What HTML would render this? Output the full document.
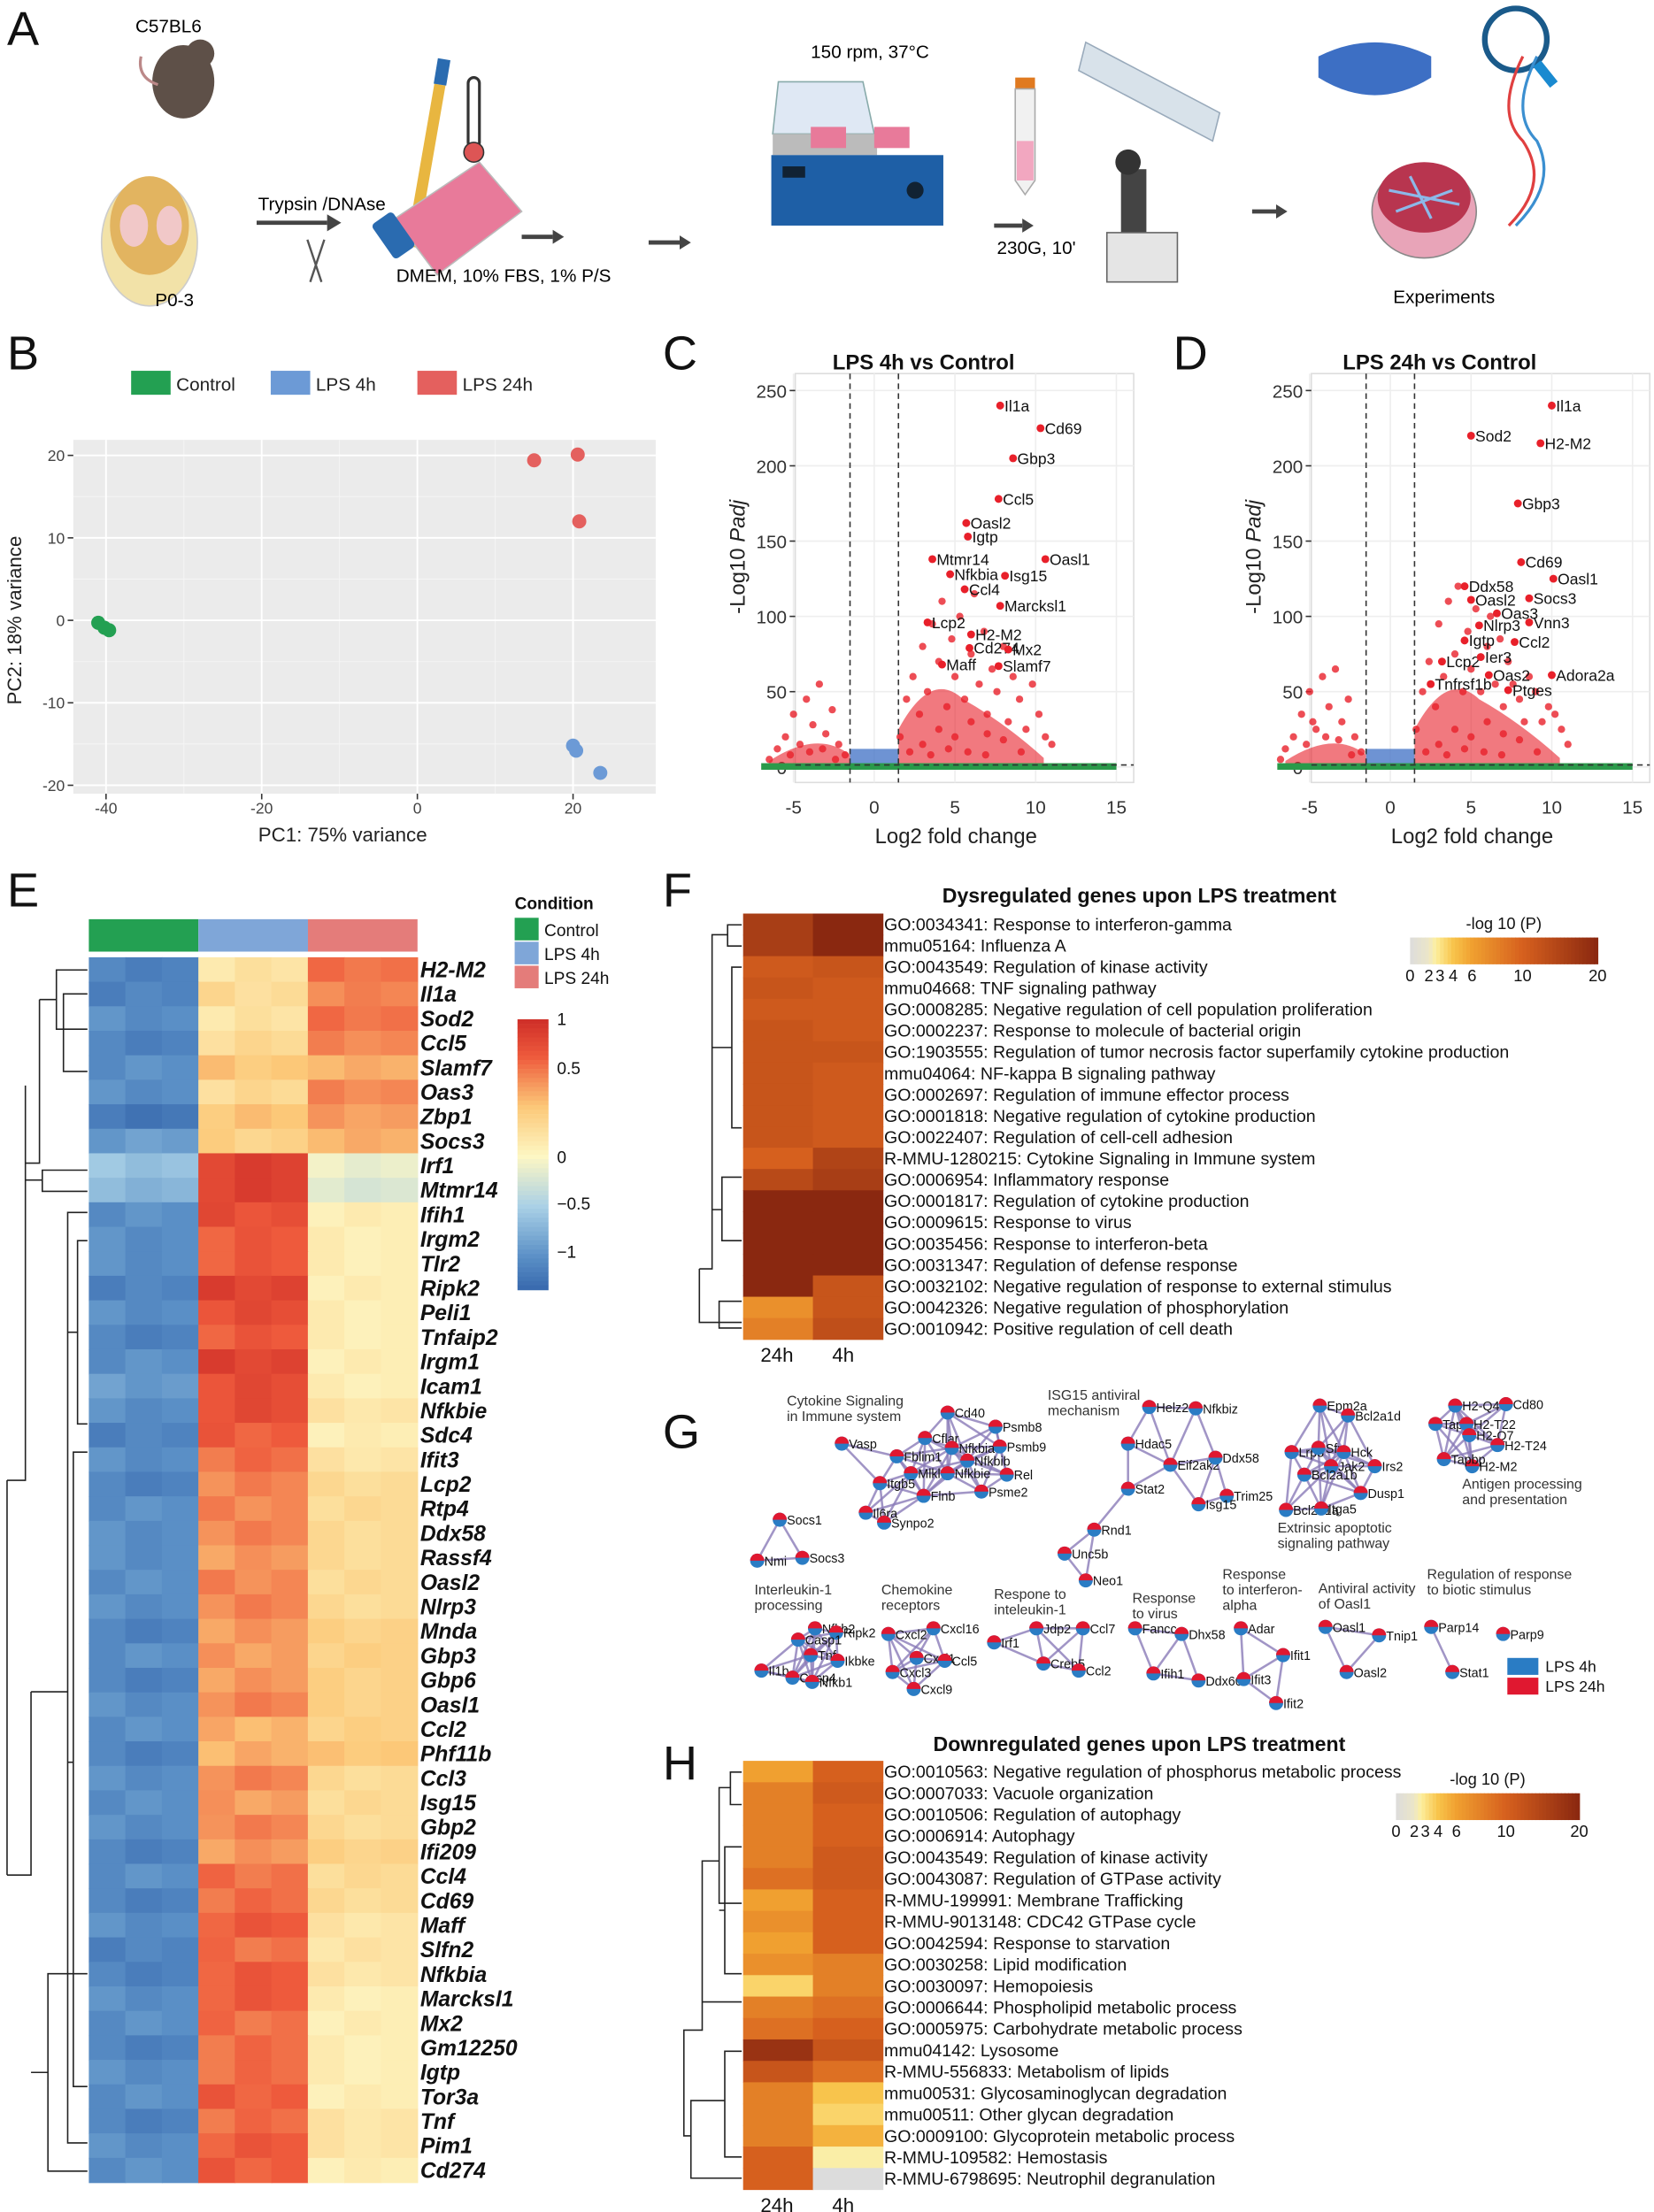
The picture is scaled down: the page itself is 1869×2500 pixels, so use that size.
<!DOCTYPE html>
<html><head><meta charset="utf-8"><style>
html,body{margin:0;padding:0;background:#fff}
svg{display:block;font-family:"Liberation Sans",Arial,sans-serif}
</style></head><body>
<svg id="fig" width="1869" height="2500" viewBox="0 0 1173 1569" xmlns="http://www.w3.org/2000/svg">
<rect width="1173" height="1569" fill="#fff"/>
<g font-size="34" fill="#111">
<text x="5" y="32">A</text><text x="5" y="262">B</text><text x="470" y="262">C</text><text x="832" y="262">D</text>
<text x="5" y="643">E</text><text x="470" y="643">F</text><text x="470" y="1027">G</text><text x="470" y="1262">H</text>
</g>
<g>
<text x="96" y="23" font-size="13">C57BL6</text>
<ellipse cx="130" cy="58" rx="22" ry="26" fill="#5e5048"/>
<circle cx="142" cy="38" r="10" fill="#5e5048"/><path d="M112 60 q-15 -5 -12 -20" stroke="#b88" stroke-width="2" fill="none"/>
<ellipse cx="106" cy="172" rx="34" ry="45" fill="#f2e2a8" stroke="#ccc"/>
<ellipse cx="106" cy="160" rx="28" ry="35" fill="#e2b460"/>
<ellipse cx="95" cy="160" rx="10" ry="15" fill="#f1c8c8"/><ellipse cx="120" cy="160" rx="9" ry="14" fill="#f1c8c8"/>
<text x="183" y="149" font-size="13">Trypsin /DNAse</text>
<path d="M182 158 H232" stroke="#444" stroke-width="3"/><path d="M232 152 l10 6 l-10 6z" fill="#444"/>
<text x="110" y="217" font-size="13">P0-3</text>
<path d="M218 170 l10 30 M230 170 l-10 30" stroke="#555" stroke-width="1.5"/>
<path d="M312 60 l-20 115" stroke="#e8b640" stroke-width="8"/><path d="M315 42 l-3 18" stroke="#2a6bb0" stroke-width="9"/>
<rect x="332" y="55" width="8" height="50" rx="4" fill="none" stroke="#333" stroke-width="2"/><circle cx="336" cy="108" r="7" fill="#d55" stroke="#333"/>
<path d="M280 155 l60 -40 l30 35 l-60 45z" fill="#e87a9a" stroke="#bbb"/>
<rect x="270" y="152" width="18" height="30" rx="3" fill="#2a6bb0" transform="rotate(-35 279 167)"/>
<text x="281" y="200" font-size="13">DMEM, 10% FBS, 1% P/S</text>
<path d="M370 168 H392" stroke="#444" stroke-width="3"/><path d="M392 163 l8 5 l-8 5z" fill="#444"/>
<path d="M460 172 H482" stroke="#444" stroke-width="3"/><path d="M482 167 l8 5 l-8 5z" fill="#444"/>
<text x="575" y="41" font-size="13">150 rpm, 37°C</text>
<path d="M552 58 H612 L620 95 H548z" fill="#dfe8f4" stroke="#8aa"/>
<rect x="548" y="95" width="74" height="15" fill="#bbb"/>
<rect x="547" y="110" width="122" height="50" fill="#1e5fa6"/>
<rect x="555" y="118" width="16" height="8" fill="#123"/><circle cx="649" cy="135" r="6" fill="#123"/>
<rect x="575" y="90" width="25" height="15" fill="#e87a9a"/><rect x="620" y="90" width="25" height="15" fill="#e87a9a"/>
<rect x="720" y="55" width="14" height="8" fill="#e07a20"/><path d="M720 63 h14 v65 l-7 10 l-7 -10z" fill="#f1f1f1" stroke="#aaa"/><rect x="721" y="100" width="12" height="28" fill="#f2a7c0"/>
<text x="707" y="180" font-size="13">230G, 10'</text>
<path d="M705 160 H725" stroke="#444" stroke-width="3"/><path d="M725 155 l8 5 l-8 5z" fill="#444"/>
<path d="M770 30 l95 50 l-5 20 l-95 -50z" fill="#d8e2ea" stroke="#9ab"/>
<rect x="795" y="120" width="18" height="45" fill="#444"/><rect x="785" y="165" width="50" height="35" fill="#e5e5e5" stroke="#666"/><circle cx="800" cy="115" r="9" fill="#333"/>
<path d="M888 150 H905" stroke="#444" stroke-width="3"/><path d="M905 145 l8 5 l-8 5z" fill="#444"/>
<ellipse cx="1010" cy="150" rx="37" ry="33" fill="#e8a4b8" stroke="#888"/><ellipse cx="1010" cy="140" rx="33" ry="25" fill="#b8354f"/>
<path d="M985 135 l50 10 M990 150 l40 -15 M1000 125 l15 30" stroke="#8cb8e8" stroke-width="2"/>
<path d="M935 40 q40 -20 80 0 v15 q-40 25 -80 0z" fill="#3d6fc4"/>
<circle cx="1075" cy="28" r="22" fill="none" stroke="#1a5a8a" stroke-width="4"/><path d="M1090 45 l12 15" stroke="#1a8ad0" stroke-width="7"/>
<path d="M1080 40 q-20 40 0 60 q20 30 -10 60" stroke="#e04040" stroke-width="2" fill="none"/><path d="M1090 40 q-20 40 0 60 q15 30 -15 60" stroke="#3b8fd0" stroke-width="2" fill="none"/>
<text x="988" y="215" font-size="13">Experiments</text>
</g>
<g id="pcaG"></g>
<g id="volC"></g>
<g id="volD"></g>
<g id="heatE"></g>
<g id="heatF"></g>
<g id="netG"></g>
<g id="heatH"></g>
</svg>
<script>
const NS="http://www.w3.org/2000/svg";
function mk(p,t,a,txt){const e=document.createElementNS(NS,t);for(const k in a)e.setAttribute(k,a[k]);if(txt!==undefined)e.textContent=txt;p.appendChild(e);return e;}
function lerpC(stops,v){if(v<=stops[0][0])return '#'+stops[0][1];for(let i=1;i<stops.length;i++){if(v<=stops[i][0]){const a=stops[i-1],b=stops[i],t=(v-a[0])/(b[0]-a[0]);const ca=a[1].match(/\w\w/g).map(h=>parseInt(h,16)),cb=b[1].match(/\w\w/g).map(h=>parseInt(h,16));return"rgb("+ca.map((c,j)=>Math.round(c+(cb[j]-c)*t)).join(",")+")";}}return '#'+stops[stops.length-1][1];}

/* ---------- PCA ---------- */
const pcaControlX=[-41,-40.2,-39.6], pcaControlY=[-0.3,-0.9,-1.2];
const pca4hX=[20,20.4,23.5], pca4hY=[-15.2,-15.8,-18.5];
const pca24hX=[15,20.6,20.8], pca24hY=[19.4,20.1,12];
const pcaTicksX=[-40,-20,0,20], pcaTicksY=[20,10,0,-10,-20];
(function(){
 const g=document.getElementById('pcaG');
 const X=v=>296+v*5.52, Y=v=>440-v*5.85;
 mk(g,'rect',{x:52,y:312,width:413,height:251,fill:'#ebebeb'});
 [-30,-10,10].forEach(v=>mk(g,'line',{x1:X(v),x2:X(v),y1:312,y2:563,stroke:'#f5f5f5',"stroke-width":0.6}));
 [15,5,-5,-15].forEach(v=>mk(g,'line',{x1:52,x2:465,y1:Y(v),y2:Y(v),stroke:'#f5f5f5',"stroke-width":0.6}));
 pcaTicksX.forEach(v=>{mk(g,'line',{x1:X(v),x2:X(v),y1:312,y2:563,stroke:'#fff',"stroke-width":1.2});mk(g,'line',{x1:X(v),x2:X(v),y1:563,y2:567,stroke:'#333'});const t=mk(g,'text',{x:X(v),y:577,"font-size":11,fill:'#444',"text-anchor":'middle'},v);});
 pcaTicksY.forEach(v=>{mk(g,'line',{x1:52,x2:465,y1:Y(v),y2:Y(v),stroke:'#fff',"stroke-width":1.2});mk(g,'line',{x1:48,x2:52,y1:Y(v),y2:Y(v),stroke:'#333'});const t=mk(g,'text',{x:46,y:Y(v)+4,"font-size":11,fill:'#444',"text-anchor":'end'},v);});
 const dots=(xs,ys,c,n)=>xs.forEach((x,i)=>{const d=mk(g,'circle',{cx:X(x),cy:Y(ys[i]),r:5,fill:c});});
 dots(pcaControlX,pcaControlY,'#23a052','pca-point-control');dots(pca4hX,pca4hY,'#6c9ad6','pca-point-lps4h');dots(pca24hX,pca24hY,'#e4605e','pca-point-lps24h');
 const xt=mk(g,'text',{x:243,y:597,"font-size":14,fill:'#222',"text-anchor":'middle'},'PC1: 75% variance');
 const yt=mk(g,'text',{x:15,y:440,"font-size":14,fill:'#222',"text-anchor":'middle',transform:'rotate(-90 15 440)'},'PC2: 18% variance');
 [['Control','#23a052',93],['LPS 4h','#6c9ad6',192],['LPS 24h','#e4605e',296]].forEach(l=>{const e=mk(g,'g',{});mk(e,'rect',{x:l[2],y:263,width:28,height:17,fill:l[1]});mk(e,'text',{x:l[2]+32,y:277,"font-size":13,fill:'#222'},l[0]);});
})();

/* ---------- Volcano ---------- */
const volC_genes=['Il1a','Cd69','Gbp3','Ccl5','Oasl2','Igtp','Mtmr14','Oasl1','Nfkbia','Isg15','Ccl4','Marcksl1','Lcp2','H2-M2','Cd274','Mx2','Maff','Slamf7'];
const volC_fc=[7.8,10.3,8.6,7.7,5.7,5.8,3.6,10.6,4.7,8.1,5.6,7.8,3.3,6.0,5.9,8.3,4.2,7.7];
const volC_p=[240,225,205,178,162,153,138,138,128,127,118,107,96,88,79,78,68,67];
const volD_genes=['Il1a','Sod2','H2-M2','Gbp3','Cd69','Oasl1','Ddx58','Oasl2','Socs3','Oas3','Nlrp3','Vnn3','Igtp','Ccl2','Lcp2','Ier3','Oas2','Adora2a','Tnfrsf1b','Ptges'];
const volD_fc=[10,5,9.3,7.9,8.1,10.1,4.6,5,8.6,6.6,5.5,8.6,4.6,7.7,3.2,5.6,6.1,10,2.5,7.3];
const volD_p=[240,220,215,175,136,125,120,111,112,102,94,96,84,83,70,73,61,61,55,51];
const volC_bgX=[1.6,2,2.4,2.8,3,3.3,3.6,4,4.2,4.5,4.8,5,5.3,5.6,6,6.2,6.5,6.8,7,7.3,7.6,8,8.3,8.6,9,9.4,9.8,10.2,10.6,11,3,4,5,6,7,8,2.2,3.5,4.6,5.8,6.9,9.1,-6.5,-6,-5.5,-5,-4.6,-4.2,-3.8,-3.4,-3,-2.6,-2.2,-1.8,-5.2,-4,-3.2,-2.4];
const volC_bgY=[20,45,60,35,80,50,95,70,110,40,85,60,100,45,75,115,55,90,35,65,50,80,30,60,45,25,55,35,20,15,15,25,20,30,22,18,10,8,12,10,8,10,5,12,20,35,15,45,28,55,22,38,15,8,8,10,12,5];
const volD_bgX=[1.6,2,2.4,2.8,3,3.3,3.6,4,4.2,4.5,4.8,5,5.3,5.6,6,6.2,6.5,6.8,7,7.3,7.6,8,8.3,8.6,9,9.4,9.8,10.2,10.6,11,3,4,5,6,7,8,2.2,3.5,4.6,5.8,6.9,9.1,-6.5,-6,-5.5,-5,-4.6,-4.2,-3.8,-3.4,-3,-2.6,-2.2,-1.8,-5.2,-4,-3.2,-2.4,-6.8,-4.8];
const volD_bgY=[25,50,70,40,95,60,110,75,120,50,90,65,105,50,80,100,55,85,40,70,55,45,30,60,50,30,40,35,25,15,15,25,20,30,22,18,10,8,12,10,8,10,12,20,35,50,25,60,40,65,30,45,20,10,15,20,18,8,5,30];
const volTicksX=[-5,0,5,10,15], volTicksY=[0,50,100,150,200,250];
function volcano(id,x0,title,genes,fc,p,bx,by){
 const g=document.getElementById(id);
 const X=v=>x0+v*11.45, Y=v=>544-v*1.068, L=x0-56, R=x0+184;
 mk(g,'rect',{x:L,y:265,width:R-L,height:290,fill:'#fff',stroke:'#ddd'});
 volTicksX.forEach(v=>{mk(g,'line',{x1:X(v),x2:X(v),y1:265,y2:555,stroke:'#eee'});const t=mk(g,'text',{x:X(v),y:577,"font-size":13,fill:'#333',"text-anchor":'middle'},v);});
 volTicksY.forEach(v=>{mk(g,'line',{x1:L,x2:R,y1:Y(v),y2:Y(v),stroke:'#eee'});mk(g,'line',{x1:L-4,x2:L,y1:Y(v),y2:Y(v),stroke:'#333'});const t=mk(g,'text',{x:L-6,y:Y(v)+5,"font-size":13,fill:'#333',"text-anchor":'end'},v);});
 mk(g,'path',{d:`M${X(1.5)} ${Y(0)} L${X(1.5)} ${Y(25)} Q${X(3.5)} ${Y(65)} ${X(5.5)} ${Y(45)} Q${X(8)} ${Y(30)} ${X(10.5)} ${Y(6)} L${X(10.5)} ${Y(0)}Z`,fill:'#e8202a',opacity:0.6});
 mk(g,'path',{d:`M${X(-1.5)} ${Y(0)} L${X(-1.5)} ${Y(8)} Q${X(-3.5)} ${Y(25)} ${X(-6.5)} ${Y(4)} L${X(-6.5)} ${Y(0)}Z`,fill:'#e8202a',opacity:0.6});
 mk(g,'rect',{x:X(-1.5),y:Y(12),width:X(1.5)-X(-1.5),height:Y(0)-Y(12),fill:'#4a78c8',opacity:0.8});
 mk(g,'rect',{x:X(-7),y:Y(2.5),width:X(15)-X(-7),height:Y(0)-Y(2.5)+2,fill:'#2a9a4a'});
 bx.forEach((x,i)=>{const c=mk(g,'circle',{cx:X(x),cy:Y(by[i]),r:2.6,fill:'#e8202a',opacity:0.8});});
 mk(g,'line',{x1:X(-1.5),x2:X(-1.5),y1:265,y2:555,stroke:'#333',"stroke-dasharray":'4 3'});
 mk(g,'line',{x1:X(1.5),x2:X(1.5),y1:265,y2:555,stroke:'#333',"stroke-dasharray":'4 3'});
 mk(g,'line',{x1:L,x2:R,y1:Y(1.3),y2:Y(1.3),stroke:'#333',"stroke-dasharray":'4 3'});
 genes.forEach((n,i)=>{const c=mk(g,'circle',{cx:X(fc[i]),cy:Y(p[i]),r:2.8,fill:'#e8202a'});
  const t=mk(g,'text',{x:X(fc[i])+3,y:Y(p[i])+4,"font-size":11,fill:'#111'},n);});
 const tt=mk(g,'text',{x:x0+35,y:262,"font-size":15,"font-weight":'bold',"text-anchor":'middle',fill:'#111'},title);
 const xt=mk(g,'text',{x:x0+58,y:598,"font-size":15,"text-anchor":'middle',fill:'#222'},'Log2 fold change');
 const yt=mk(g,'text',{x:L-36,y:395,"font-size":15,"text-anchor":'middle',fill:'#222',transform:`rotate(-90 ${L-36} 395)`});
 mk(yt,'tspan',{},'-Log10 ');mk(yt,'tspan',{"font-style":'italic'},'Padj');
}
volcano('volC',620,'LPS 4h vs Control',volC_genes,volC_fc,volC_p,volC_bgX,volC_bgY);
volcano('volD',986,'LPS 24h vs Control',volD_genes,volD_fc,volD_p,volD_bgX,volD_bgY);

/* ---------- Heatmap E ---------- */
const heatGenes=['H2-M2','Il1a','Sod2','Ccl5','Slamf7','Oas3','Zbp1','Socs3','Irf1','Mtmr14','Ifih1','Irgm2','Tlr2','Ripk2','Peli1','Tnfaip2','Irgm1','Icam1','Nfkbie','Sdc4','Ifit3','Lcp2','Rtp4','Ddx58','Rassf4','Oasl2','Nlrp3','Mnda','Gbp3','Gbp6','Oasl1','Ccl2','Phf11b','Ccl3','Isg15','Gbp2','Ifi209','Ccl4','Cd69','Maff','Slfn2','Nfkbia','Marcksl1','Mx2','Gm12250','Igtp','Tor3a','Tnf','Pim1','Cd274'];
const heatCtrl=[-1.1,-1.1,-1.0,-1.1,-1.0,-1.0,-1.2,-0.9,-0.6,-0.7,-1.0,-1.0,-1.0,-1.1,-1.0,-1.1,-1.0,-0.9,-1.0,-1.1,-1.0,-1.1,-1.0,-1.0,-1.0,-1.0,-1.0,-1.1,-1.0,-1.1,-1.0,-1.0,-1.1,-1.0,-1.0,-1.0,-1.1,-1.0,-1.1,-1.0,-1.1,-1.1,-1.0,-1.0,-1.1,-1.0,-1.0,-1.1,-1.0,-1.0];
const heat4h=[0.2,0.3,0.2,0.3,0.5,0.3,0.5,0.4,1.2,1.2,1.1,1.0,1.0,1.2,1.1,1.0,1.2,1.1,1.1,1.0,0.9,0.8,0.8,0.8,0.7,0.8,0.8,0.7,0.7,0.7,0.8,0.6,0.6,0.8,0.7,0.8,0.7,0.9,0.9,1.0,0.9,1.0,1.0,0.9,0.9,0.9,1.0,0.9,1.0,1.0];
const heat24h=[0.9,0.8,0.9,0.8,0.6,0.8,0.7,0.6,-0.1,-0.2,0.1,0.1,0.1,0.1,0.1,0.1,0.1,0.1,0.2,0.1,0.2,0.3,0.3,0.3,0.3,0.3,0.3,0.4,0.4,0.4,0.4,0.4,0.5,0.3,0.3,0.3,0.4,0.3,0.3,0.2,0.2,0.2,0.1,0.1,0.1,0.1,0.1,0.2,0.2,0.1];
const sampleJitter=[0.05,-0.05,0,-0.06,0.06,0,0.04,-0.04,0];
const divStops=[[-1.4,'3060a8'],[-1,'5a8fc6'],[-0.5,'a9d0e6'],[0,'fdf7c4'],[0.5,'fcc878'],[1,'ee5a3c'],[1.4,'cc2a26']];
(function(){
 const g=document.getElementById('heatE'), x0=63, cw=233/9, y0=679, rh=869/50;
 heatGenes.forEach((n,r)=>{const vals=[heatCtrl[r],heat4h[r],heat24h[r]];
  for(let c=0;c<9;c++){const v=vals[Math.floor(c/3)]+sampleJitter[c]*(r%3===1?-1:1);const e=mk(g,'rect',{x:x0+c*cw,y:y0+r*rh,width:cw+0.5,height:rh+0.5,fill:lerpC(divStops,v)});}
  const t=mk(g,'text',{x:298,y:y0+r*rh+rh/2+5.5,"font-size":15.5,"font-style":'italic',"font-weight":'bold',fill:'#111'},n);});
 [['#23a052',0],['#7fa6d8',1],['#e47c7a',2]].forEach(a=>{const e=mk(g,'rect',{x:x0+a[1]*77.7,y:652,width:77.7,height:23,fill:a[0]});});
 const d=mk(g,'path',{d:'M62 688 H40 V730 H62 M40 709 H28 M62 705 H45 V760 H62 M28 709 V825 H18 M62 830 H30 V845 H62 M30 837 H18 M18 770 V1050 H5 M62 860 H48 V1520 H62 M48 1200 H22 M62 880 H55 V1010 H62 M55 945 H48 M62 1030 H52 V1480 H62 M52 1250 H48 M22 1200 V1330 H5 M62 1400 H34 V1540 H62 M34 1470 H22 M5 1050 V1330',stroke:'#222',fill:'none',"stroke-width":1});
 
 mk(g,'text',{x:365,y:645,"font-size":12,"font-weight":'bold',fill:'#111'},'Condition');
 [['Control','#23a052'],['LPS 4h','#7fa6d8'],['LPS 24h','#e47c7a']].forEach((l,i)=>{const e=mk(g,'g',{});mk(e,'rect',{x:365,y:651+i*17,width:17,height:16,fill:l[1]});mk(e,'text',{x:386,y:664+i*17,"font-size":12,fill:'#111'},l[0]);});
 const cb=mk(g,'g',{});
 for(let i=0;i<60;i++){const v=1.35-i*2.7/60;mk(cb,'rect',{x:367,y:723+i*3.2,width:22,height:3.4,fill:lerpC(divStops,v)});}
 [[1,727],[0.5,762],[0,825],[-0.5,858],[-1,892]].forEach(t=>{mk(cb,'text',{x:395,y:t[1],"font-size":12,fill:'#111'},t[0]===-0.5?'−0.5':t[0]===-1?'−1':t[0]);});
})();

/* ---------- GO heatmaps ---------- */
const goStops=[[0,'dcdcdc'],[2,'ece6c8'],[2.6,'fdf0a0'],[4,'f8c44c'],[6,'f0a030'],[10,'d6601e'],[20,'8a2810']];
const upTerms=['GO:0034341: Response to interferon-gamma','mmu05164: Influenza A','GO:0043549: Regulation of kinase activity','mmu04668: TNF signaling pathway','GO:0008285: Negative regulation of cell population proliferation','GO:0002237: Response to molecule of bacterial origin','GO:1903555: Regulation of tumor necrosis factor superfamily cytokine production','mmu04064: NF-kappa B signaling pathway','GO:0002697: Regulation of immune effector process','GO:0001818: Negative regulation of cytokine production','GO:0022407: Regulation of cell-cell adhesion','R-MMU-1280215: Cytokine Signaling in Immune system','GO:0006954: Inflammatory response','GO:0001817: Regulation of cytokine production','GO:0009615: Response to virus','GO:0035456: Response to interferon-beta','GO:0031347: Regulation of defense response','GO:0032102: Negative regulation of response to external stimulus','GO:0042326: Negative regulation of phosphorylation','GO:0010942: Positive regulation of cell death'];
const up24h=[16,16,11,12,11,12,12,12,12,12,12,10,14,20,20,20,20,20,7,8];
const up4h=[20,20,12,11,11,11,12,11,11,11,11,15,16,20,20,20,20,12,12,13];
const downTerms=['GO:0010563: Negative regulation of phosphorus metabolic process','GO:0007033: Vacuole organization','GO:0010506: Regulation of autophagy','GO:0006914: Autophagy','GO:0043549: Regulation of kinase activity','GO:0043087: Regulation of GTPase activity','R-MMU-199991: Membrane Trafficking','R-MMU-9013148: CDC42 GTPase cycle','GO:0042594: Response to starvation','GO:0030258: Lipid modification','GO:0030097: Hemopoiesis','GO:0006644: Phospholipid metabolic process','GO:0005975: Carbohydrate metabolic process','mmu04142: Lysosome','R-MMU-556833: Metabolism of lipids','mmu00531: Glycosaminoglycan degradation','mmu00511: Other glycan degradation','GO:0009100: Glycoprotein metabolic process','R-MMU-109582: Hemostasis','R-MMU-6798695: Neutrophil degranulation'];
const down24h=[6,8,8,8,8,9,6,7,6,7,3.5,8,9,18,12,8,8,8,10,10];
const down4h=[10,11,10,10,11,11,10,10,10,8,8,9,10,12,9,4,3.5,5,2.5,0];
const goTicks=[0,2,3,4,6,10,20];
function goHeat(id,y0,y1,terms,a,b,title,ty,leg,dend){
 const g=document.getElementById(id), rh=(y1-y0)/terms.length;
 terms.forEach((t,r)=>{[a[r],b[r]].forEach((v,c)=>{const e=mk(g,'rect',{x:527+c*49.5,y:y0+r*rh,width:50,height:rh+0.4,fill:lerpC(goStops,v)});});
  const tx=mk(g,'text',{x:627,y:y0+r*rh+rh/2+4.3,"font-size":12.3,fill:'#111'},t);});
 mk(g,'text',{x:551,y:y1+16,"font-size":14,"text-anchor":'middle',fill:'#111'},'24h');mk(g,'text',{x:598,y:y1+16,"font-size":14,"text-anchor":'middle',fill:'#111'},'4h');
 const tt=mk(g,'text',{x:808,y:ty,"font-size":14.5,"font-weight":'bold',"text-anchor":'middle',fill:'#111'},title);
 const d=mk(g,'path',{d:dend,stroke:'#222',fill:'none'});
 const lg=mk(g,'g',{});
 const lx=leg[0],ly=leg[1],lw=leg[2];
 mk(lg,'text',{x:lx+lw/2,y:ly-6,"font-size":11.5,"text-anchor":'middle',fill:'#111'},'-log 10 (P)');
 const pos={0:0,2:0.1,3:0.16,4:0.23,6:0.33,10:0.6,20:1};
 for(let i=0;i<50;i++){const f=(i+0.5)/50;let v=0;const ks=goTicks;for(let k=1;k<ks.length;k++){if(f<=pos[ks[k]]){v=ks[k-1]+(f-pos[ks[k-1]])/(pos[ks[k]]-pos[ks[k-1]])*(ks[k]-ks[k-1]);break;}}mk(lg,'rect',{x:lx+i/50*lw,y:ly,width:lw/50+0.5,height:19,fill:lerpC(goStops,v)});}
 goTicks.forEach(t=>mk(lg,'text',{x:lx+pos[t]*lw,y:ly+31,"font-size":11.5,"text-anchor":'middle',fill:'#111'},t));
}
goHeat('heatF',648,950,upTerms,up24h,up4h,'Dysregulated genes upon LPS treatment',640,[1000,665,133],
 'M526 656 H516 V671 H526 M516 663 H505 V900 H496 M526 686 H519 V800 H526 M519 743 H505 M526 835 H512 V880 H526 M512 858 H505 M496 900 V938 H526 M526 923 H510 V942 H526');
goHeat('heatH',1249,1553,downTerms,down24h,down4h,'Downregulated genes upon LPS treatment',1242,[990,1272,130],
 'M526 1257 H518 V1280 H526 M518 1268 H510 V1350 H526 M526 1310 H514 V1400 H526 M514 1355 H510 M510 1320 H498 V1420 H526 M526 1455 H514 V1530 H526 M514 1490 H490 V1545 H526 M498 1420 V1440 H485 V1515 H490');

/* ---------- Network G ---------- */
const netClusters=[
 {label:['Cytokine Signaling','in Immune system'],lx:558,ly:997,nodes:[['Cd40',672,1002],['Psmb8',706,1012],['Psmb9',709,1026],['Cflar',656,1020],['Nfkbia',675,1027],['Nfkbib',686,1036],['Vasp',597,1024],['Fblim1',636,1033],['Mlkl',646,1045],['Nfkbie',672,1045],['Rel',714,1046],['Itgb5',624,1052],['Flnb',655,1061],['Psme2',696,1058],['Il6ra',614,1073],['Synpo2',627,1080],['Socs1',553,1078],['Nmi',537,1107],['Socs3',569,1105]]},
 {label:['ISG15 antiviral','mechanism'],lx:743,ly:993,nodes:[['Helz2',815,998],['Nfkbiz',848,999],['Hdac5',800,1024],['Eif2ak2',830,1039],['Ddx58',862,1034],['Stat2',800,1056],['Trim25',870,1061],['Isg15',850,1067],['Rnd1',776,1085],['Unc5b',755,1102],['Neo1',770,1121]]},
 {label:['Extrinsic apoptotic','signaling pathway'],lx:906,ly:1087,nodes:[['Epm2a',936,997],['Bcl2a1d',956,1004],['Lrp8',916,1030],['Sfrp',935,1027],['Hck',953,1030],['Jak2',944,1040],['Irs2',975,1040],['Bcl2a1b',925,1046],['Dusp1',965,1059],['Bcl2a1a',912,1071],['Itga5',937,1070]]},
 {label:['Antigen processing','and presentation'],lx:1037,ly:1056,nodes:[['H2-Q4',1032,997],['Cd80',1068,996],['Tap1',1018,1010],['H2-T22',1040,1010],['H2-Q7',1042,1018],['H2-T24',1062,1025],['H2-M2',1044,1040],['Tapbp',1024,1035]]},
 {label:['Interleukin-1','processing'],lx:535,ly:1131,nodes:[['Nfkb2',578,1155],['Ripk2',593,1158],['Casp1',566,1163],['Tnf',575,1174],['Ikbke',594,1178],['Il1b',540,1185],['Casp4',562,1190],['Nfkb1',576,1193]]},
 {label:['Chemokine','receptors'],lx:625,ly:1131,nodes:[['Cxcl16',662,1155],['Cxcl2',630,1159],['Cxcl1',650,1176],['Ccl5',670,1178],['Cxcl3',633,1186],['Cxcl9',648,1198]]},
 {label:['Respone to','inteleukin-1'],lx:705,ly:1134,nodes:[['Irf1',705,1165],['Jdp2',735,1155],['Ccl7',768,1155],['Creb5',740,1180],['Ccl2',765,1185]]},
 {label:['Response','to virus'],lx:803,ly:1137,nodes:[['Fancc',805,1155],['Dhx58',838,1159],['Ifih1',818,1187],['Ddx60',850,1192]]},
 {label:['Response','to interferon-','alpha'],lx:867,ly:1120,nodes:[['Adar',880,1155],['Ifit1',910,1174],['Ifit3',882,1191],['Ifit2',905,1208]]},
 {label:['Antiviral activity','of Oasl1'],lx:935,ly:1130,nodes:[['Oasl1',940,1154],['Tnip1',978,1160],['Oasl2',955,1186]]},
 {label:['Regulation of response','to biotic stimulus'],lx:1012,ly:1120,nodes:[['Parp14',1015,1154],['Parp9',1066,1159],['Stat1',1030,1186]]}];
(function(){
 const g=document.getElementById('netG');
 netClusters.forEach(cl=>{const cg=mk(g,'g',{});
  cl.label.forEach((l,i)=>mk(cg,'text',{x:cl.lx,y:cl.ly+i*11,"font-size":10,fill:'#333'},l));
  const n=cl.nodes;
  for(let i=0;i<n.length;i++)for(let j=i+1;j<n.length;j++){const dx=n[i][1]-n[j][1],dy=n[i][2]-n[j][2];if(Math.hypot(dx,dy)<45)mk(cg,'line',{x1:n[i][1],y1:n[i][2],x2:n[j][1],y2:n[j][2],stroke:'#8a7bb8',"stroke-width":1.6,opacity:0.8});}
  n.forEach(nd=>{const x=nd[1],y=nd[2];const ng=mk(cg,'g',{});
   mk(ng,'circle',{cx:x,cy:y,r:5,fill:'#2a7cc4'});mk(ng,'path',{d:`M${x-5} ${y} A5 5 0 0 1 ${x+5} ${y}Z`,fill:'#e01830'});
   mk(ng,'text',{x:x+5,y:y+3.5,"font-size":9,fill:'#111'},nd[0]);});
 });
 [['LPS 4h','#2a7cc4',1182],['LPS 24h','#e01830',1196]].forEach(l=>{const e=mk(g,'g',{});mk(e,'rect',{x:1069,y:l[2]-6,width:22,height:12,fill:l[1]});mk(e,'text',{x:1096,y:l[2]+4,"font-size":11,fill:'#111'},l[0]);});
})();
</script>
</body></html>
